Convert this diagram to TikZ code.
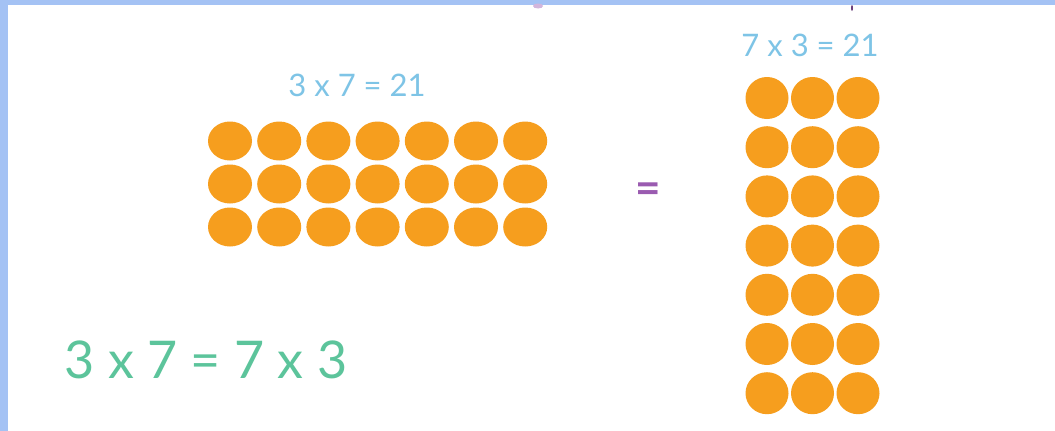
\documentclass[tikz,border=0pt]{standalone}
\usepackage{fontspec}
\setmainfont{Lato}
\usepackage{xcolor}
\usetikzlibrary{positioning,shapes.geometric}

\definecolor{frameblue}{HTML}{A4C2F4}
\definecolor{dotorange}{HTML}{F69E1E}
\definecolor{labelblue}{HTML}{7EC4E6}
\definecolor{sumgreen}{HTML}{5CC49B}
\definecolor{eqpurple}{HTML}{9A5BB0}

\begin{document}
\begin{tikzpicture}[
  x=1pt,y=-1pt,
  dotw/.style={ellipse,fill=dotorange,inner sep=0pt,minimum width=44pt,minimum height=39pt},
  dott/.style={ellipse,fill=dotorange,inner sep=0pt,minimum width=43pt,minimum height=42pt},
  lbl/.style={text=labelblue,font=\fontsize{31}{31}\selectfont,inner sep=0pt}
]
\useasboundingbox (0,0) rectangle (1055,431);
\fill[white] (0,0) rectangle (1055,431);
% frame edges
\fill[frameblue] (0,0) rectangle (1055,5);
\fill[frameblue] (0,0) rectangle (8,431);
% cut-off marks at the top
\fill[eqpurple!45] (538,6) ellipse (5pt and 2.5pt);
\fill[eqpurple!70!black] (852,8) ellipse (1pt and 3pt);

% 3 rows of 7
\foreach \r in {1,2,3}{
  \foreach \c in {1,...,7}{
    \node[dotw] (l-\r-\c) at ({230+49.2*(\c-1)},{141+43*(\r-1)}) {};
  }
}
% 7 rows of 3
\foreach \r in {1,...,7}{
  \foreach \c in {1,2,3}{
    \node[dott] (r-\r-\c) at ({767+45.5*(\c-1)},{98+49.2*(\r-1)}) {};
  }
}

\node[lbl] (lefteq) at (357,85) {3 x 7 = 21};
\node[lbl] (righteq) at (810,45) {7 x 3 = 21};
\node[text=eqpurple,font=\fontsize{44}{44}\selectfont\bfseries,inner sep=0pt] (equal) at (648,193) {=};
\node[text=sumgreen,font=\fontsize{52}{52}\selectfont,inner sep=0pt] (swap) at (206,360) {3 x 7 = 7 x 3};
\end{tikzpicture}
\end{document}
